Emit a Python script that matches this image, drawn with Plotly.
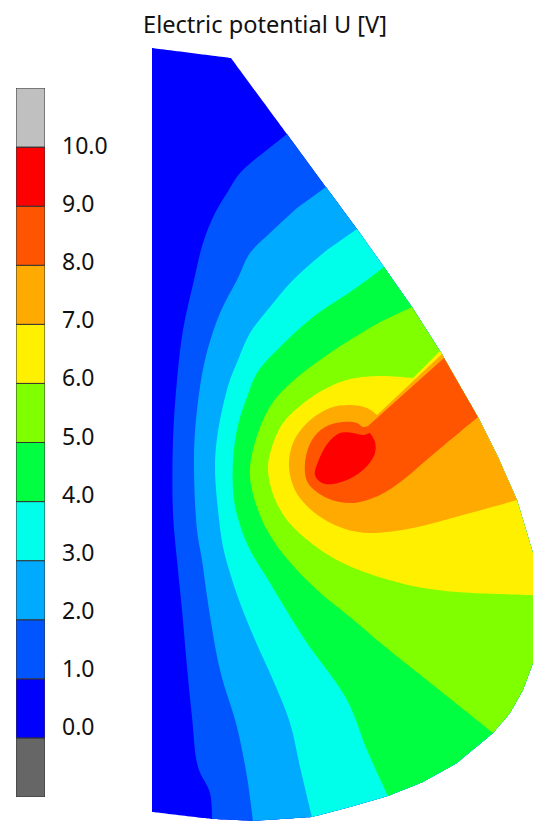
import plotly.graph_objects as go

TITLE = "Electric potential U [V]"
LEVELS = [0.0, 1.0, 2.0, 3.0, 4.0, 5.0, 6.0, 7.0, 8.0, 9.0, 10.0]
LEVEL_LABELS = [f"{v:.1f}" for v in LEVELS]
CELL_COLORS = ["#666666", "#0000ff", "#0055ff", "#00aaff", "#00ffea", "#00ff40",
               "#7fff00", "#fff000", "#ffaa00", "#ff5500", "#ff0000", "#c0c0c0"]

OUTLINE_X = [152, 231, 287, 326, 357, 384, 412, 440, 442, 444, 478, 498, 517, 533, 533,
             533, 523, 510, 493, 457, 423, 388, 350, 312, 253, 212, 152]
OUTLINE_Y = [48, 58, 134, 187, 229, 267, 307, 351, 354, 358, 417, 457, 500, 553, 595,
             663, 690, 713, 733, 763, 782, 796, 807, 817, 821, 819, 812]

U0_SPAN = (0, 26)
U1_SPAN = (2, 25)
U1_X = [263, 240, 227, 215, 203, 194, 183, 177, 173, 173, 177, 182, 187, 192, 198, 210]
U1_Y = [153, 173, 193, 213, 243, 280, 330, 380, 440, 513, 560, 610, 667, 717, 767, 793]
U2_SPAN = (3, 24)
U2_X = [297, 270, 250, 237, 220, 205, 197, 194, 197, 202, 208, 220, 237, 247]
U2_Y = [208, 233, 253, 280, 313, 360, 410, 457, 530, 560, 603, 670, 727, 777]
U3_SPAN = (4, 23)
U3_X = [327, 293, 270, 250, 238, 229, 220, 216, 215, 218, 223, 230, 240, 255, 273, 290, 300]
U3_Y = [250, 280, 307, 333, 360, 383, 420, 447, 470, 510, 547, 573, 603, 640, 680, 723, 767]
U4_SPAN = (5, 21)
U4_X = [367, 350, 313, 280, 257, 246, 238, 233, 234, 240, 250, 270, 305, 347, 367]
U4_Y = [280, 292, 317, 347, 373, 400, 425, 460, 500, 525, 550, 583, 640, 700, 750]
U5_SPAN = (6, 18)
U5_X = [380, 350, 320, 293, 273, 259, 250, 252, 262, 273, 288, 317, 350, 383, 423, 473]
U5_Y = [322, 340, 360, 381, 402, 430, 467, 490, 520, 540, 560, 590, 617, 645, 677, 717]
U6_SPAN = (7, 14)
U6_X = [413, 413, 380, 350, 327, 305, 283, 271, 268, 274, 287, 305, 335, 373, 423, 473]
U6_Y = [378, 378, 376, 379, 388, 402, 423, 450, 470, 497, 520, 538, 559, 575, 588, 593]
U7_SPAN = (8, 12)
U7_X = [377, 377, 367, 350, 330, 307, 293, 289, 295, 306, 322, 345, 370, 413, 463]
U7_Y = [415, 415, 408, 405, 408, 423, 443, 467, 490, 505, 518, 529, 533, 528, 515]
U8_SPAN = (9, 10)
U8_X = [368, 368, 363, 357, 343, 325, 312, 305, 308, 327, 353, 380, 403, 430]
U8_Y = [426, 426, 427, 423, 422, 427, 440, 463, 483, 498, 503, 495, 480, 457]
U9_X = [340, 353, 363, 370, 370, 375, 375, 368, 353, 333, 322, 315, 318, 328, 340]
U9_Y = [433, 433, 435, 433, 433, 442, 453, 465, 477, 484, 483, 475, 462, 443, 433]


def doubled(values):
    return [v for v in values for _ in (0, 1)]


def band(span, inner_x=(), inner_y=()):
    a, b = span
    return (doubled(OUTLINE_X[a:b + 1]) + list(inner_x)[::-1],
            doubled(OUTLINE_Y[a:b + 1]) + list(inner_y)[::-1])


regions = [
    (band(U0_SPAN), CELL_COLORS[1]),
    (band(U1_SPAN, U1_X, U1_Y), CELL_COLORS[2]),
    (band(U2_SPAN, U2_X, U2_Y), CELL_COLORS[3]),
    (band(U3_SPAN, U3_X, U3_Y), CELL_COLORS[4]),
    (band(U4_SPAN, U4_X, U4_Y), CELL_COLORS[5]),
    (band(U5_SPAN, U5_X, U5_Y), CELL_COLORS[6]),
    (band(U6_SPAN, U6_X, U6_Y), CELL_COLORS[7]),
    (band(U7_SPAN, U7_X, U7_Y), CELL_COLORS[8]),
    (band(U8_SPAN, U8_X, U8_Y), CELL_COLORS[9]),
    ((U9_X, U9_Y), CELL_COLORS[10]),
]

FONT = "Noto Sans"
W, H = 533, 821
fig = go.Figure()

for (xs, ys), color in regions:
    fig.add_trace(go.Scatter(x=xs, y=ys, mode="lines", fill="toself", fillcolor=color,
                             line=dict(width=0, color=color, shape="spline", smoothing=1,
                                       simplify=False),
                             hoverinfo="skip", showlegend=False, xaxis="x", yaxis="y"))

# Colour key: one unit-high cell per band
for i, color in enumerate(CELL_COLORS):
    fig.add_trace(go.Bar(x=[0], y=[1], base=[i - 1], width=[1], marker=dict(color=color,
                         line=dict(color="#333333", width=1)), hoverinfo="skip",
                         showlegend=False, xaxis="x2", yaxis="y2"))

fig.add_trace(go.Scatter(x=[0] * len(LEVELS), y=LEVELS, mode="markers", marker=dict(opacity=0),
                         hoverinfo="skip", showlegend=False, xaxis="x2", yaxis="y3"))

fig.update_layout(
    width=W, height=H, margin=dict(l=0, r=0, t=0, b=0),
    paper_bgcolor="white", plot_bgcolor="rgba(0,0,0,0)", barmode="overlay",
    font=dict(family=FONT, color="#111111"),
    title=dict(text=TITLE, x=265 / W, y=1 - 25 / H, xanchor="center", yanchor="middle",
               xref="paper", yref="paper", font=dict(family=FONT, size=23.6, color="#111111")),
    xaxis=dict(domain=[0, 1], range=[0, W], visible=False, fixedrange=True),
    yaxis=dict(domain=[0, 1], range=[H, 0], visible=False, fixedrange=True),
    xaxis2=dict(domain=[16 / W, 45 / W], range=[-0.5, 0.5], visible=False, fixedrange=True),
    yaxis2=dict(domain=[(H - 797) / H, (H - 88) / H], range=[-1, 11], visible=False,
                fixedrange=True, anchor="x2"),
    yaxis3=dict(domain=[0, 1], range=[-(H - 727) / 58.1, 10 + 146 / 58.1], overlaying="y",
                anchor="free", position=61 / W, side="right", tickmode="array",
                tickvals=LEVELS, ticktext=LEVEL_LABELS, ticks="", showgrid=False,
                zeroline=False, showline=False, fixedrange=True,
                tickfont=dict(family=FONT, size=23, color="#111111")),
)

fig.write_html("out.html", config={"displayModeBar": False},
               post_script="document.body.style.margin='0';")
